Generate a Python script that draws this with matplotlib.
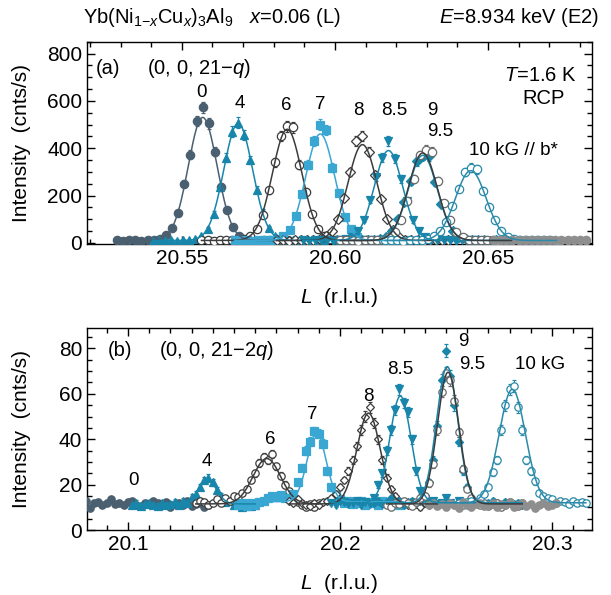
import numpy as np
import matplotlib
matplotlib.use("Agg")
import matplotlib.pyplot as plt
from matplotlib.ticker import MultipleLocator

plt.rcParams['font.family'] = ['Liberation Sans', 'DejaVu Sans']
plt.rcParams['mathtext.fontset'] = 'custom'
plt.rcParams['mathtext.rm'] = 'Liberation Sans'
plt.rcParams['mathtext.it'] = 'Liberation Sans:italic'
plt.rcParams['mathtext.bf'] = 'Liberation Sans:bold'

# field labels (kG); "bg" = high-L background scan
fields = ["0", "4", "6", "7", "8", "8.5", "9", "9.5", "10", "bg"]

# ---------------- (0, 0, 21-q) : scans with step 0.002 r.l.u., counting time 1 s
step = 0.002
start_a = [20.5288, 20.5404, 20.5564, 20.5672, 20.5810, 20.5895, 20.6007, 20.6017, 20.6164, 20.6520]
cnt_a_0 = [11, 8, 12, 10, 9, 13, 11, 17, 33, 62, 128, 250, 372, 515, 572, 505, 385, 238, 140, 68,
           29, 15, 12, 9, 11, 10, 8, 12, 10]
cnt_a_4 = [9, 12, 10, 11, 8, 12, 10, 15, 27, 58, 122, 235, 360, 470, 508, 455, 350, 225, 130, 64,
           30, 16, 11, 10, 12, 9, 11, 10, 12]
cnt_a_6 = [10, 12, 9, 11, 10, 13, 11, 16, 30, 60, 118, 222, 340, 450, 492, 488, 330, 215, 122, 57,
           27, 15, 11, 10, 9, 12, 10, 11, 9]
cnt_a_7 = [11, 10, 12, 9, 13, 10, 12, 15, 29, 55, 112, 205, 330, 430, 500, 478, 318, 212, 110, 60,
           26, 14, 12, 10, 11, 9, 12, 10, 11]
cnt_a_8 = [10, 12, 9, 11, 10, 12, 11, 16, 27, 50, 102, 190, 300, 430, 452, 385, 288, 185, 100, 55,
           24, 14, 11, 12, 9, 11, 10, 12, 10]
cnt_a_85 = [11, 9, 12, 10, 11, 9, 12, 15, 24, 48, 96, 180, 280, 360, 430, 355, 270, 175, 95, 52,
            23, 13, 10, 11, 12, 9, 10, 11, 12]
cnt_a_9 = [10, 11, 12, 9, 11, 10, 12, 16, 26, 50, 100, 172, 262, 345, 368, 365, 255, 165, 92, 48,
           25, 15, 12, 10, 11, 9, 12, 10, 11]
cnt_a_95 = [12, 10, 11, 9, 12, 10, 11, 14, 24, 45, 98, 175, 270, 370, 392, 385, 262, 170, 95, 46,
            23, 14, 10, 11, 12, 10, 9, 11, 10]
cnt_a_10 = [10, 12, 11, 9, 12, 11, 13, 16, 28, 48, 90, 155, 228, 300, 318, 310, 220, 150, 95, 52,
            26, 17, 12, 10, 11, 12, 10, 11, 9]
cnt_a_bg = [12, 10, 13, 11, 12, 14, 11, 12, 13, 10, 12, 11, 13, 12, 11, 12]
counts_a = [cnt_a_0, cnt_a_4, cnt_a_6, cnt_a_7, cnt_a_8, cnt_a_85, cnt_a_9, cnt_a_95, cnt_a_10, cnt_a_bg]

# gaussian fits: center, amplitude, sigma, background
fit_a = [(20.5568, 520, 0.0047, 10), (20.5684, 495, 0.0047, 10), (20.5844, 470, 0.0048, 10),
         (20.5952, 450, 0.0047, 10), (20.6090, 405, 0.0047, 10), (20.6175, 380, 0.0046, 10),
         (20.6287, 360, 0.0047, 10), (20.6287, 370, 0.0047, 10), (20.6444, 295, 0.0050, 10), None]

# ---------------- (0, 0, 21-2q) : counting time 10 s
start_b = [20.080, 20.102, 20.132, 20.152, 20.176, 20.196, 20.216, 20.222, 20.256, 20.242]
cnt_b_0 = [13, 9.5, 12, 12.5, 11, 12, 13.5, 11.5, 12, 11, 12.5, 13, 11, 10.5, 12, 11.5, 13, 12,
           11, 12.5, 10, 11.5, 12, 11, 13, 10.5, 11.5, 12, 10, 11]
cnt_b_4 = [11, 12, 10.5, 11.5, 12, 11, 10.5, 12, 11, 11.5, 12.5, 11, 13, 12, 14.5, 16, 19, 22,
           23, 21, 17.5, 15, 12.5, 13, 11, 12, 10, 11.5, 10.5, 11]
cnt_b_6 = [12, 13, 12.5, 11, 12, 13.5, 12, 14, 13, 15, 14.5, 16.5, 18, 22, 25, 29.5, 32, 31,
           33.5, 28, 24, 20, 17, 14, 12.5, 11, 10, 11.5, 10, 12]
cnt_b_7 = [11, 12, 10.5, 12, 11, 12.5, 13, 14, 15, 14.5, 15.5, 14, 14, 16, 21, 27.5, 35, 39,
           43.5, 42.5, 38, 26, 19, 15.5, 13.5, 12, 13, 11.5, 12, 13, 11, 12.5, 12, 11, 13, 12,
           11.5, 12.5, 11, 12]
cnt_b_8 = [13, 12, 13.5, 12, 11, 10.5, 12, 11, 12.5, 13, 14, 16, 19, 22, 26, 31, 37, 44, 50, 54,
           47, 40, 31, 23, 18, 15, 13, 12.5, 11, 12, 11.5, 10, 12, 11, 12.5, 11]
cnt_b_85 = [12, 11, 13, 12.5, 11.5, 12, 13, 11, 12.5, 11.5, 14, 20, 25, 35, 44, 53, 62, 56, 52,
            40, 26, 17, 13.5, 12.5, 13, 11.5, 12, 14, 12, 11, 13, 12, 11.5, 10.5, 12]
cnt_b_9 = [12, 13, 11.5, 12.5, 14, 12, 13, 11, 12.5, 13, 12, 13, 15, 21, 31, 46, 66, 79, 68, 55,
           39, 26, 19, 13.5, 12, 13, 11.5, 12, 13, 12, 11, 12.5, 12, 11.5, 12, 11]
cnt_b_95 = [11, 10, 12, 11.5, 13, 12, 10.5, 12.5, 14, 15, 20.5, 29, 44, 61, 69, 66, 57, 43, 27,
            18, 14, 12, 11, 12, 10.5, 11.5, 12, 10, 11, 12.5, 11, 10.5, 12]
cnt_b_10 = [12, 11, 12.5, 13, 12, 14, 16, 19, 25.5, 31, 44, 55, 62, 63.5, 54, 44, 31, 26, 21.5,
            16.5, 15, 14, 13.5, 12, 13, 12.5, 11.5, 13, 12, 12.5, 12]
cnt_b_bg = [11, 12, 10.5, 11.5, 10, 12, 11, 9.5, 12.5, 11, 10, 11.5, 12, 10.5, 11, 12, 10, 11.5,
            11, 12.5, 10, 11, 12, 10.5, 11.5, 9.5, 11, 12, 10.5, 11, 12]
counts_b = [cnt_b_0, cnt_b_4, cnt_b_6, cnt_b_7, cnt_b_8, cnt_b_85, cnt_b_9, cnt_b_95, cnt_b_10, cnt_b_bg]

fit_b = [None, (20.1376, 10.5, 0.0042, 11.5), (20.1655, 20, 0.0065, 11.5),
         (20.1890, 30, 0.0045, 12.5), (20.2135, 40, 0.0055, 11.5), (20.2285, 47, 0.0050, 12),
         (20.2506, 60, 0.0050, 12), (20.2510, 58, 0.0050, 11.5), (20.2813, 50, 0.0062, 12), None]

# marker / colour for each field
slate = "#4a6070"
teal = "#1886aa"
light = "#3aa6d2"
dark = "#3c3c3c"
styles = {
    "0":   dict(marker="o", color=slate, filled=True, line=slate),
    "4":   dict(marker="^", color=teal, filled=True, line=teal),
    "6":   dict(marker="o", color=dark, filled=False, line=dark),
    "7":   dict(marker="s", color=light, filled=True, line=light),
    "8":   dict(marker="D", color=dark, filled=False, line=dark),
    "8.5": dict(marker="v", color=teal, filled=True, line=teal),
    "9":   dict(marker="D", color=teal, filled=True, line=teal),
    "9.5": dict(marker="o", color="#6a6a6a", filled=False, line=dark),
    "10":  dict(marker="o", color="#2a8aaa", filled=False, line="#2a8aaa"),
    "bg":  dict(marker="o", color="#8e8e8e", filled=True, line=None),
}


def gauss(x, c, a, s, b):
    return b + a * np.exp(-(x - c) ** 2 / (2 * s ** 2))


def draw_panel(ax, starts, counts, fits, t, ms):
    for f, x0, y, p in zip(fields, starts, counts, fits):
        st = styles[f]
        y = np.array(y, dtype=float)
        x = x0 + step * np.arange(len(y))
        size = ms * 0.8 if st["marker"] == "D" else ms
        ax.errorbar(x, y, yerr=np.sqrt(y / t), fmt=st["marker"], ms=size,
                    color=st["color"], mec=st["color"],
                    mfc=st["color"] if st["filled"] else "white",
                    mew=0.9, elinewidth=0.8, capsize=1.5, capthick=0.8, zorder=3)
        if p is not None:
            xf = np.linspace(x[0], x[-1], 300)
            ax.plot(xf, gauss(xf, *p), color=st["line"], lw=1.1, zorder=4)


def style_axes(ax):
    ax.tick_params(which="both", direction="in", top=True, right=True,
                   labelsize=15, width=1.0)
    ax.tick_params(which="major", length=6)
    ax.tick_params(which="minor", length=3.5)
    for sp in ax.spines.values():
        sp.set_linewidth(1.0)
    ax.set_ylabel("Intensity  (cnts/s)", fontsize=15)
    ax.set_xlabel(r"$L$  (r.l.u.)", fontsize=15, labelpad=13)
    ax.yaxis.set_label_coords(-0.11, 0.5)


fig = plt.figure(figsize=(6.11, 5.95), dpi=100)
ax1 = fig.add_axes([0.1424, 0.5899, 0.8265, 0.3400])
ax2 = fig.add_axes([0.1424, 0.1092, 0.8265, 0.3395])

# ---- upper panel
draw_panel(ax1, start_a, counts_a, fit_a, 1.0, 6.0)
ax1.set_xlim(20.519, 20.684)
ax1.set_ylim(-5, 850)
ax1.xaxis.set_major_locator(MultipleLocator(0.05))
ax1.xaxis.set_minor_locator(MultipleLocator(0.01))
ax1.yaxis.set_major_locator(MultipleLocator(200))
ax1.yaxis.set_minor_locator(MultipleLocator(50))
ax1.xaxis.set_major_formatter(matplotlib.ticker.FormatStrFormatter("%.2f"))
style_axes(ax1)

ax1.text(0.018, 0.87, "(a)", transform=ax1.transAxes, fontsize=14.5, va="center")
ax1.text(0.118, 0.87, r"(0, 0, 21$-q$)", transform=ax1.transAxes, fontsize=14.5, va="center")
ax1.text(0.97, 0.835, r"$T$=1.6 K", transform=ax1.transAxes, fontsize=14.5, va="center", ha="right")
ax1.text(0.862, 0.72, "RCP", transform=ax1.transAxes, fontsize=14.5, va="center")

labels_a = [("0", 20.5563, 636, "center"), ("4", 20.5688, 590, "center"),
            ("6", 20.5841, 581, "center"), ("7", 20.5953, 585, "center"),
            ("8", 20.6077, 560, "center"), ("8.5", 20.6195, 560, "center"),
            ("9", 20.6300, 560, "left"), ("9.5", 20.6300, 472, "left"),
            ("10 kG // b*", 20.6582, 392, "center")]
for s, x, y, ha in labels_a:
    ax1.text(x, y, s, fontsize=13.5, ha=ha, va="center")

# ---- lower panel
draw_panel(ax2, start_b, counts_b, fit_b, 10.0, 5.3)
ax2.set_xlim(20.0807, 20.3189)
ax2.set_ylim(0, 89)
ax2.xaxis.set_major_locator(MultipleLocator(0.1))
ax2.xaxis.set_minor_locator(MultipleLocator(0.01))
ax2.yaxis.set_major_locator(MultipleLocator(20))
ax2.yaxis.set_minor_locator(MultipleLocator(5))
ax2.xaxis.set_major_formatter(matplotlib.ticker.FormatStrFormatter("%.1f"))
style_axes(ax2)

ax2.text(0.042, 0.89, "(b)", transform=ax2.transAxes, fontsize=14.5, va="center")
ax2.text(0.142, 0.89, r"(0, 0, 21$-$2$q$)", transform=ax2.transAxes, fontsize=14.5, va="center")

labels_b = [("0", 20.1024, 21.8, "center"), ("4", 20.1373, 30, "center"),
            ("6", 20.1670, 40, "center"), ("7", 20.1868, 51, "center"),
            ("8", 20.2132, 58.7, "center"), ("8.5", 20.2283, 70.7, "center"),
            ("9", 20.2557, 83, "left"), ("9.5", 20.2560, 73, "left"),
            ("10 kG", 20.2943, 73, "center")]
for s, x, y, ha in labels_b:
    ax2.text(x, y, s, fontsize=13.5, ha=ha, va="center")

# ---- header line
fig.text(0.136, 0.970, r"Yb(Ni$_{1\mathrm{-}x}$Cu$_x$)$_3$Al$_9$   $x$=0.06 (L)",
         fontsize=14.5, va="center", ha="left")
fig.text(0.980, 0.970, r"$E$=8.934 keV (E2)", fontsize=14.5, va="center", ha="right")

fig.savefig("out.png", dpi=100)
